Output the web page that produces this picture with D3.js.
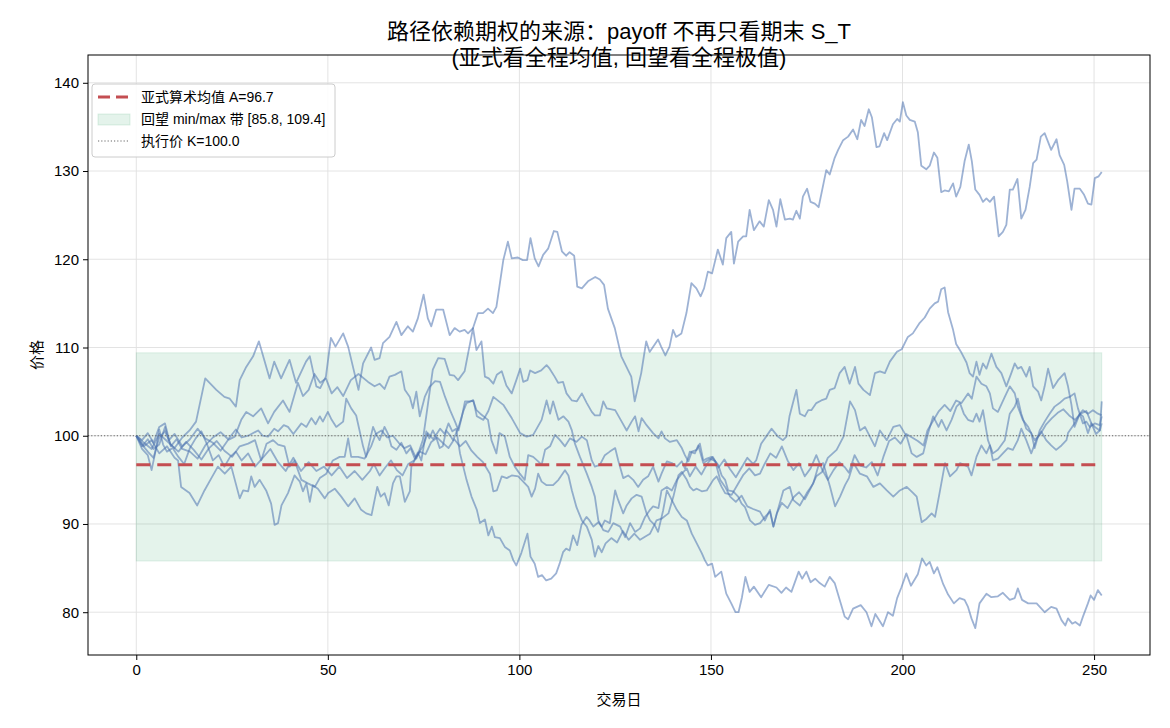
<!DOCTYPE html>
<html lang="zh">
<head>
<meta charset="UTF-8">
<title>路径依赖期权的来源</title>
<script src="https://cdnjs.cloudflare.com/ajax/libs/d3/7.8.5/d3.min.js"></script>
<style>
  body { margin: 0; background: #fff; }
  text { font-family: "Liberation Sans", Arial, "Noto Sans CJK SC", sans-serif; fill: #000; }
  .grid line { stroke: #e0e0e0; stroke-width: 0.9; }
</style>
</head>
<body>
<div id="chart"></div>
<script>
// ---- data: [trading day, price] ----
const pathA = [[0,100],[2,99.2],[4,98.5],[6,100.2],[8,99.4],[10,98.6],[12,99.8],[13.9,100.6],[15.6,101.6],[18,106.5],[20.9,105.2],[23,104.4],[24.4,104.2],[26,103.3],[27,106.3],[28.7,107.8],[30.5,109],[32,110.7],[34.8,106.5],[36,108.4],[37.8,106.5],[40,108.6],[41.7,106],[44.3,108.4],[45.3,109],[47,105.6],[48,105.4],[49.5,106.7],[50.8,111.1],[52,110.1],[54,111.6],[55.3,110.1],[58,105.2],[59.2,108.2],[61.3,110],[62.2,108.6],[63.5,108.8],[64.4,110.5],[66.1,111.2],[67.9,112.9],[69.2,111.4],[70.9,112.4],[72.2,111.8],[73.5,113.3],[75,116],[76.1,113.3],[77,112.4],[78.3,114.3],[80.1,114.3],[81.8,111.4],[83.1,112.2],[84.4,111.8],[85.7,112],[86.6,111.6],[87.9,112.2],[89.2,113.9],[90.5,113.9],[91.8,114.4],[93.1,113.9],[94,114.6],[95.8,119.9],[97,122],[98,120.1],[99.6,120.2],[100.9,119.9],[102,119.9],[102.9,122.4],[104,120.1],[105,119.2],[106.2,120.5],[107.5,121.2],[109,123.2],[109.9,123.1],[111.1,120.9],[112.2,120.4],[113.1,120.8],[114.3,120.4],[115.1,116.9],[116.3,116.7],[117.9,117.5],[119.8,118],[121,117.7],[122.1,117.1],[123.1,114.4],[124.9,112.2],[126.6,109],[128.3,107.5],[129.2,106.7],[130.1,103.9],[131.8,107.1],[133.1,110.7],[134,109.5],[136.2,110.9],[137,110.1],[138.1,109.1],[139.2,110.1],[140.1,112],[140.9,111.2],[142.3,111.6],[143.6,113.9],[144.9,117.3],[146.2,116.7],[147.3,115.8],[148.2,116.7],[149.2,118.6],[150.3,118.4],[151.8,121.1],[153.1,119.4],[154,122.4],[155.3,123.1],[156,119.5],[157.1,122],[158.4,122.6],[159.2,122.6],[160.1,125.6],[161.2,123.3],[162.7,124.3],[163.8,123.7],[165.1,126.7],[166.2,125.6],[167.1,123.7],[168.1,126.8],[169.3,124.5],[170.6,124.6],[171.4,124.5],[172.3,125.5],[173.2,124.6],[174,127.1],[175.1,128],[176,126.5],[177.1,126.3],[178.1,125.9],[180.1,130.1],[181,129.6],[182.3,131.5],[183.2,132.4],[184.5,133.5],[185.8,133.9],[187.1,134.7],[188.2,133.6],[189.2,135.8],[190.1,135.1],[191.2,137],[192,136.1],[193.2,132.7],[194,132.8],[195.2,134.3],[196,133.5],[197.5,135.3],[198.6,135.9],[199.3,135.6],[200.1,137.8],[201,136.3],[201.9,135.8],[203.2,135.6],[204,134.4],[204.9,130.6],[206.2,130.2],[207.1,130.6],[208.2,132.1],[209.1,131.5],[210.1,127.6],[211,127.8],[212.1,127.7],[213.2,128.6],[214,127.1],[215.1,128.2],[216.2,131.1],[217.3,133],[218.1,131.1],[219,127.9],[220.1,127.3],[221,126.5],[221.9,126.9],[222.8,126.5],[223.9,127.1],[225.1,122.6],[226.2,123.1],[227.1,123.9],[228,127.9],[228.8,127.9],[230,129.1],[231,124.6],[232.1,125.6],[233.2,128.2],[234.1,130.9],[235,131.3],[236.1,133.9],[237.1,134.3],[238.8,132.4],[240.2,133.6],[241,131.8],[242.2,130.7],[243,128.8],[244.1,125.6],[244.9,128],[246.3,128],[247.4,127.3],[248.4,126.3],[249.3,126.2],[250.2,129.2],[251.2,129.4],[252,129.9]];

const pathB = [[0,100],[2,98.8],[4,99.5],[6,98],[8,98.8],[10,97.5],[10.9,97.2],[11.7,94.2],[13.9,93.5],[15.9,92.1],[17.8,93.8],[19.6,95.2],[21.3,96.5],[23.1,95.7],[24.8,96.5],[27,92.9],[27.9,93.8],[29.2,93.7],[30,95.4],[30.9,94.2],[32.2,95],[33.9,93.8],[35.2,92.3],[36.1,89.9],[37,90.1],[37.9,92.1],[39.6,93.5],[41.3,95.5],[42.7,94.8],[43.5,93.7],[44.4,94.6],[45.3,92.5],[46.1,94.4],[47.4,94],[49.2,92.9],[50.1,93.5],[51.8,94],[53.5,93.1],[55.3,92],[57,92.9],[58.7,91.6],[60,91.2],[61.4,91],[62.9,94.2],[63.8,93.1],[64.8,93.5],[65.9,92.1],[67,94.6],[67.9,95.4],[68.8,95.4],[70.1,92.5],[71.4,93.7],[71.8,96.5],[73.1,97.6],[74.8,98.8],[76.1,100.3],[77.5,99.6],[79.3,100.8],[80.5,100.2],[81.5,101.4],[82.5,100.5],[83.5,100.8],[84.5,98],[86.2,95],[87.5,93.1],[88.9,91.6],[89.7,90.1],[91,90.5],[91.9,88.7],[92.8,89.7],[93.6,88.5],[94.9,88.4],[96.2,87.4],[97.5,87],[98.4,85.9],[99.2,85.3],[100.5,86.7],[102.1,88.9],[102.9,86.3],[104,85.5],[104.9,84],[105.9,84.2],[107,83.6],[108.3,83.8],[109.6,84.4],[110.5,85.5],[111.4,86.8],[112.2,87.2],[113.1,87],[114,88.7],[115.1,87.6],[116.2,89.9],[117.5,90.8],[118.3,90.4],[119.3,89.7],[120.6,90.2],[121.5,89.7],[122.3,90.4],[123.6,90.1],[125,93.8],[125.8,92.7],[127.1,91.2],[128,92.1],[129.3,92.9],[130.6,93.3],[131.9,93.1],[133.2,91.2],[134.1,90.4],[135.3,89.9],[136.2,89.1],[137.5,91.5],[138.5,93.8],[139.8,92.7],[141.1,91.6],[142.4,90.8],[143.7,90.4],[145,88.9],[146.3,87.8],[147.6,86.7],[148.4,85.9],[149.2,85.3],[150.3,85.5],[151.1,84],[152.7,84.6],[154,82.1],[155.3,81],[156.4,80],[157.2,80],[158.1,81.7],[159,84],[160.1,82.3],[161.2,82.9],[163.1,81.7],[165.1,83.1],[167.1,82.8],[168.4,82.2],[169.6,82.8],[171,82.3],[172.9,84.6],[173.8,83.8],[174.9,84.6],[176,83.4],[177.2,83.8],[178.4,83.3],[179.7,82.9],[181,84],[182.3,83.3],[183.6,81.4],[184.9,79.5],[185.8,79.2],[187.1,80.4],[189.1,80.8],[190.6,80],[191.9,78.4],[192.9,79.8],[194.9,78.4],[196.2,80],[197.5,79.6],[198.6,81.6],[199.7,82.8],[201,84.4],[202.2,83],[204,84.3],[205.1,86.1],[206.2,85.3],[207.1,85.7],[208.2,84.4],[209.1,85.1],[210.6,83.2],[211.9,82],[213.4,81],[214.9,81.6],[216.2,81.4],[217.1,80.6],[218,79.3],[219,78.2],[220.1,81],[221.9,82.1],[223.2,81.7],[224.9,81.8],[226.2,82.2],[228,81.4],[229.3,81.6],[230.1,82.7],[231.2,81.4],[232.8,81],[235,81],[237.1,80],[238.8,80.6],[240.2,80.4],[241.5,79.1],[242.5,78.5],[243.2,79.3],[244.3,78.7],[245.1,78.9],[246.3,78.5],[247.1,79.5],[248.4,81],[249.1,81.9],[250,81.4],[251,82.5],[252,81.9]];

const pathC = [[0,100],[1.5,98.8],[3,99.6],[4.5,98.5],[6,99],[7.5,101],[8.5,99.5],[10,100.2],[12,98.8],[14,99.6],[16,100.8],[18,99.7],[20,99.2],[22,98.3],[23.9,99.5],[25.7,99.9],[27.4,101.8],[28.7,102.7],[30.5,102.2],[32.6,103.1],[34.4,101.4],[36,102.7],[38.3,104],[40,102.7],[42.2,106],[43.5,104.5],[45,105.2],[46.5,107],[48,106],[49.5,106.5],[51,104.8],[52.5,105.5],[54,104.5],[56,106.3],[58,107],[60.5,106.1],[62.2,105.6],[63.5,105.9],[64.8,105.3],[66.1,106.7],[67.5,106.9],[69.2,107.3],[70.1,105.2],[71.4,104.4],[72.2,103.1],[73.1,105],[74,102.2],[75.3,104.4],[76.5,105.5],[78,106.2],[79.3,106.1],[80.6,104.4],[81.9,102.9],[83.2,101.6],[84.1,100.6],[84.9,102],[85.8,103.9],[87.1,103.9],[88,104],[88.9,102.2],[90.6,101.8],[91.9,102.8],[93.2,104.4],[95.8,103.5],[98,102],[100.2,100.3],[101.9,99.9],[103.6,100.1],[105.8,101.8],[107.1,104],[108,102.5],[108.8,103.9],[110.2,101.8],[111.5,102.2],[112.8,101.6],[113.7,100.6],[114.5,99.1],[115.8,97.6],[117.6,95.7],[118.9,94.2],[119.7,93.1],[120.6,90.4],[121.9,89.3],[123.2,89.1],[124.5,90.1],[126.3,89.7],[127.6,88.5],[128.9,90.1],[130.2,89.1],[131.5,89.5],[132.8,90.8],[134.1,91.6],[134.9,92],[136.3,91.8],[137.1,93.8],[138.5,94.2],[139.8,93.8],[141.1,95],[142.4,95.7],[143.7,96.3],[144.5,95.4],[146,96.5],[147.5,95.6],[149,96.8],[150.5,97.6],[152,96.4],[153.5,97.3],[155,96.2],[156.5,95.3],[158,96.4],[159.5,97.5],[161,96.8],[161.8,97.2],[163.1,99.1],[164.4,99.9],[165.8,100.8],[167.5,99.9],[168.8,99.5],[169.7,99.9],[170.5,102.2],[171.4,103.7],[172.3,105.2],[173.2,102.5],[174.5,102.2],[175.4,102.9],[176.2,102.9],[177.5,103.7],[178.8,104],[180.1,104.2],[181,105.2],[182.3,105.4],[183.6,107.1],[184.9,107.8],[186.2,105.9],[187.6,107.8],[188.5,105.9],[189.8,105.2],[191.5,104.6],[192.8,107.1],[194.1,107.3],[195.4,107.1],[196.7,108.4],[198.5,109.5],[199.8,109.8],[201.4,111.2],[202.7,111.6],[204.5,112.8],[205.8,113.4],[207.1,114.4],[208.4,115],[209.3,115.2],[210.1,116.6],[211,116.8],[211.9,114],[213.2,112],[214,110.4],[215.4,109.4],[216.7,108.3],[217.5,107.1],[218.4,106.7],[219.3,108.4],[220.1,106.9],[221,108.2],[221.9,107.6],[223.2,109.3],[224.5,107.8],[225.8,107.1],[227.1,105.6],[228.4,107.1],[229.3,108.2],[230.1,107.6],[231,107.8],[232.3,106.7],[233.2,107.8],[234.1,105.6],[235.4,105],[236.2,104],[237.1,105.6],[238,107.6],[239.3,105.4],[240.6,106.3],[242.3,107.1],[243.2,105.6],[244.1,103.5],[244.9,101],[246.3,102.5],[247.1,102.2],[248.4,100.3],[249.3,101.4],[250.2,101],[251.5,100.6],[252,101.4]];

const pathD = [[0,100],[1.5,99.5],[3,100.3],[4.5,99.2],[6,101],[7.5,101.4],[9,98.8],[10.5,99.6],[12,98.5],[14,98.2],[16,97.4],[18,98.9],[20,99.8],[22,100.4],[24,99.6],[26,100.7],[27.5,99.8],[29.2,100],[31.8,100.6],[33,100],[34.4,99.9],[36,100.8],[37,100.5],[38.5,101.2],[39.6,101],[41,100.2],[43.1,101.4],[44.4,101],[45.7,102],[46.8,101.3],[47.9,102.2],[48.7,101.6],[50,102.7],[51,101.8],[52.2,101],[54,101.6],[54.8,104.2],[56.1,103.1],[57.4,102.3],[59.2,98.8],[60,97.6],[61.8,101],[62.5,100.3],[63.5,99.5],[64.8,101],[65.7,100.2],[66.6,98.8],[67.9,98.4],[69.2,99.2],[70.5,98],[71.6,98.6],[72.7,97.4],[73.5,98.1],[74.4,97.2],[75.7,100.5],[76.5,99.7],[77.4,100.6],[78.3,99.8],[79.2,98.6],[80,98.8],[80.9,100.6],[81.8,100.1],[82.7,99.5],[84,100.8],[85.3,102.7],[86.2,103.7],[87.9,104],[88.8,102.9],[89.8,102.5],[91.8,101.8],[92.7,99.5],[94,98],[94.8,100.3],[96.2,99.9],[97.5,97.6],[98.8,96.5],[100.1,95.7],[101.4,95],[102.3,97.8],[103.6,97.6],[104.9,97.1],[105.8,96.7],[106.7,98.4],[108,98.8],[109.3,100.1],[110.6,99.5],[111.9,98.8],[113.2,99.7],[114.1,99.5],[114.9,99.3],[116.3,99.9],[117.6,99.5],[118.9,97.2],[119.7,96.5],[121,96.7],[122.3,97.8],[123.6,98.2],[125,98.6],[125.8,97.2],[127.1,95.2],[128.4,95.5],[129.7,95],[131,94.2],[132.3,95],[133.6,95.4],[134.9,96.5],[136.3,94.8],[137.1,95.7],[138.5,97.1],[139.8,96.9],[141.1,96.5],[142.4,97.1],[143.2,96.3],[144.5,98.2],[145.8,98],[146.7,98.9],[148,96.9],[149.8,97.4],[151.1,97.1],[152.4,95],[153.7,94.2],[155,93.1],[156.5,92.5],[158,93.2],[159.5,92],[161,91.7],[162.8,91.4],[164.1,90.4],[165.4,91.6],[166.3,89.7],[167.2,91.2],[168.5,92.4],[170,91.8],[171.5,93],[173,93.6],[174.5,92.8],[176,94],[177.5,95.4],[179,95.9],[180.5,97.5],[182.8,98.4],[184.6,99.9],[186.3,103.9],[187.6,102.9],[188.9,100.6],[190.2,101],[191.5,99.9],[192.8,98.8],[194.1,100.6],[195.9,99.5],[197.6,101],[199.3,101.2],[201.1,99.9],[202.4,98],[203.7,97.6],[205.4,98],[206.7,100.3],[208,102.2],[209.4,101],[210.2,101.8],[211.5,100.6],[212.8,101.8],[214.1,103.3],[215,103.7],[216,102.5],[217.1,101.8],[218.4,101.6],[219.3,102.5],[220.1,101.6],[221,102.9],[222.3,99.5],[223.6,98],[224.9,98.4],[226.7,99.5],[228,102.5],[229.3,103.3],[230.1,104.2],[231,102.5],[232.3,100.8],[233.6,100.3],[234.5,98.6],[235.8,100.6],[237.1,101.6],[238.4,102.5],[239.7,103.3],[241,103.7],[242.3,104.2],[243.6,104.4],[244.9,104.8],[245.8,103.1],[247.1,101.4],[248,101.6],[248.9,101],[250.2,101.4],[251.5,101.2],[252,102.2]];

const pathE = [[0,100],[1.5,99],[3,98.2],[4.5,97.5],[6,99.8],[7.5,100.5],[9,99],[11,98.2],[13,99.3],[15,98.4],[17,97.3],[19,98.6],[21,99.4],[23,98.3],[25,97.6],[27,98.8],[29.2,99.1],[31,99.5],[32.6,97.2],[34,99.1],[35.7,99.5],[37,99],[38.7,98.8],[40,96.5],[41.3,97.2],[43.1,95],[44.8,94.6],[46.6,94.2],[47.9,95.2],[49.6,95.7],[51.3,97.2],[53.1,97.6],[54.4,97.6],[55.3,99.7],[56.1,97.6],[57.9,97.6],[59.6,97.4],[61.3,98.8],[62.5,100.2],[64,100.6],[65.5,99.8],[67,100],[68.5,99.2],[70,98.6],[71.5,98.9],[73.1,97.4],[74.8,99.5],[76.1,103.5],[77.4,107.5],[78.8,108.8],[80.5,108.7],[81.8,106.9],[83,106.8],[84,106.3],[85.7,107.3],[86.6,109.3],[87.9,112.2],[88.8,109.7],[90.1,110.7],[91,106.7],[92,106.5],[93.2,105.9],[94.1,106.9],[95.4,107.3],[96.6,105.7],[98,104.8],[99.2,106.3],[100.2,107.6],[101,106.1],[102.1,106.3],[102.8,107.4],[104.1,107.1],[105.7,107.4],[107.1,108],[107.9,107.6],[109.2,106.7],[110.1,106],[111.4,106.1],[112.3,104.8],[113.7,104],[115,103.9],[116.3,104.8],[117.6,103.7],[118.9,102.7],[119.7,102.3],[121,102.3],[121.9,103.9],[122.8,103.1],[125,102.9],[126.7,101.6],[128,100.6],[129.3,101.6],[130.2,102.2],[131.1,100.5],[131.9,102],[133.2,101.2],[134.9,100.3],[136.3,99.7],[137.1,100.5],[138,99.7],[139.3,99.3],[141.1,99.5],[142.4,98.6],[143.2,97.8],[144.1,97.1],[145,98.2],[146.3,98.4],[147.1,99.1],[148,97.2],[148.9,97.4],[150.2,97.6],[151.9,96.7],[152.8,95.5],[153.7,95],[154.5,93.8],[155.8,93.7],[157.1,93.1],[158,92.3],[158.9,91.9],[160.2,90.4],[161.5,89.9],[162.8,90.1],[164.1,90.8],[165.4,91.4],[166.3,89.7],[167.2,91.2],[168.9,93.8],[170.6,94.2],[171.5,92.7],[173.2,92.1],[175,93.5],[176.7,94.6],[178,96.5],[179.3,96.9],[181.1,94.2],[182.4,92],[183.7,93.1],[185,94.4],[186,95.2],[187.2,96.9],[188.9,95.7],[190.7,95.4],[192.4,94.2],[194.1,94.6],[195.9,93.8],[197.6,93.1],[199.3,93.8],[201.1,94.2],[202.8,93.5],[203.7,93.1],[205,90.2],[206.3,90.6],[207.6,91.2],[208.5,90.8],[209.8,93.8],[211.1,96.9],[212.4,95.4],[214.1,96.1],[215,96.9],[217.1,96.5],[218,95.5],[219.3,97.6],[220.6,98.9],[221.9,98],[222.8,98.9],[223.6,97.2],[224.9,97.4],[226.2,98],[227.5,98.6],[228.8,98.4],[230.1,99.5],[231,100.8],[232.3,99.5],[233.6,98],[234.9,99.5],[236.2,100.5],[237.5,99.5],[238.8,98.9],[240.1,98.4],[241.5,98.9],[242.8,99.5],[243.2,100.3],[244.9,101.4],[246.3,102.5],[247.1,102.9],[248.4,102.5],[249.7,102.9],[251,102.5],[252,102.3]];

const pathF = [[0,100],[1.5,98.5],[3,97.8],[4,96.1],[5,98.2],[6,100.7],[7,99],[8,98.2],[9.5,98.6],[11,97.6],[12.5,96.8],[14,98.6],[15.5,99.7],[17,100.5],[18.5,99],[20,97.2],[21.5,97.8],[23,96.5],[24.5,97.6],[26,98.2],[27.5,97.2],[29.2,98],[31,96.5],[33,97.5],[35,98.5],[37,97],[39,96],[41,97.5],[43,96],[45,97],[47,96],[49,96.5],[51,95.5],[53,96.5],[55,95.2],[57,96],[59,95],[61,96],[62,96.8],[63.5,95.5],[65,96.4],[66.5,97.2],[68,96.1],[69.5,95.5],[71,96.8],[72.5,97.2],[74,98.2],[75.5,97.9],[77,99.3],[78.5,99.8],[80,99.2],[81.5,98.6],[83,99.6],[84.5,98.8],[86,99.4],[87.5,98.3],[89,97.6],[90.5,97],[92.3,95.7],[93.2,93.7],[94.1,93.8],[95.4,95.4],[96.7,95.2],[98,95.5],[99.7,95.4],[101,94.8],[102.3,94.2],[103.2,93.1],[104.1,94],[104.9,95.7],[105.8,94.8],[107.1,94.4],[108.8,94.4],[110.2,95],[111.9,96.1],[112.8,95.5],[113.7,93.8],[114.9,91.9],[116.3,90.4],[117.6,89.7],[118.9,88.2],[119.7,86.3],[120.6,87.5],[121.5,86.8],[122.5,87.8],[124,88.4],[125.5,87.9],[127,89.2],[128.5,88.2],[130,88.9],[131.5,88.2],[133,88.6],[134.1,88.9],[135.8,90.4],[137.1,90.6],[138.9,91.2],[140.2,93.1],[141.5,95.5],[142.4,95.9],[143.7,95],[144.5,94.2],[145.4,93.8],[146.3,94],[147.6,93.7],[148.9,93.8],[150.6,95],[151.5,95.4],[152.8,94.2],[153.7,93.5],[155.4,93.3],[157,94.5],[158.5,95.6],[160,96.3],[161.5,95.5],[162.8,95.7],[164,96.8],[165.5,98],[167,97.5],[168.5,98.8],[170,97.2],[171.5,96.1],[173,96.9],[174.5,95.4],[176,96.3],[177.5,97.8],[179,96.2],[180.5,95],[182,96.1],[183.5,97],[185,96.4],[186,95.8],[187.5,97.8],[189,96.6],[190.5,96.4],[192,97],[193.5,95.5],[195,97.6],[196.5,99.4],[198,99.8],[199.5,99.1],[201,100.2],[202.5,99.8],[204,99.4],[205.5,98.9],[206.5,100.6],[208,101.7],[209.5,102.8],[211,103.5],[212.5,102.8],[214,104],[215.4,103.7],[217.1,104.8],[218.1,104.2],[219.3,106.7],[220.6,105.9],[221.9,105.6],[222.8,104.8],[223.6,103.1],[224.9,102.7],[226.7,104.4],[228,105.6],[229.3,104.8],[230.1,103.3],[231.4,101.8],[232.8,101],[234.5,99.5],[236,100.2],[237.5,101.3],[239,102],[240.5,102.6],[242,103],[243.5,102.3],[245,101.8],[246.5,102.5],[248,102.8],[249.3,101.4],[250.5,100.2],[251.5,100.6],[252,103.9]];

const paths = [pathA, pathB, pathC, pathD, pathE, pathF];

const nDays = 252;
const asianAvg = 96.7;
const lookMin = 85.8;
const lookMax = 109.4;
const strike = 100.0;
const xTicks = [0, 50, 100, 150, 200, 250];
const yTicks = [80, 90, 100, 110, 120, 130, 140];

// ---- layout ----
const W = 1170, H = 728;
const margin = {top: 55, right: 20, bottom: 73, left: 88};
const width = W - margin.left - margin.right;
const height = H - margin.top - margin.bottom;

const svg = d3.select("#chart").append("svg")
    .attr("width", W)
    .attr("height", H);

const g = svg.append("g").attr("transform", `translate(${margin.left},${margin.top})`);

const x = d3.scaleLinear().domain([-nDays * 0.05, nDays * 1.05]).range([0, width]);
const y = d3.scaleLinear().domain([75.15, 143.15]).range([height, 0]);

// grid
g.append("g").attr("class", "grid")
    .selectAll("line").data(xTicks).join("line")
    .attr("x1", d => x(d)).attr("x2", d => x(d))
    .attr("y1", 0).attr("y2", height);
g.append("g").attr("class", "grid")
    .selectAll("line").data(yTicks).join("line")
    .attr("x1", 0).attr("x2", width)
    .attr("y1", d => y(d)).attr("y2", d => y(d));

// lookback min/max band
g.append("rect")
    .attr("x", x(0)).attr("width", x(nDays) - x(0))
    .attr("y", y(lookMax)).attr("height", y(lookMin) - y(lookMax))
    .attr("fill", "rgb(44,160,100)").attr("fill-opacity", 0.13)
    .attr("stroke", "rgb(44,160,100)").attr("stroke-opacity", 0.12);

// price paths
const line = d3.line().x(d => x(d[0])).y(d => y(d[1]));
g.selectAll(".path").data(paths).join("path")
    .attr("class", "path")
    .attr("d", line)
    .attr("fill", "none")
    .attr("stroke", "#4c72b0")
    .attr("stroke-opacity", 0.55)
    .attr("stroke-width", 1.8)
    .attr("stroke-linejoin", "round");

// asian average
g.append("line")
    .attr("x1", x(0)).attr("x2", x(nDays))
    .attr("y1", y(asianAvg)).attr("y2", y(asianAvg))
    .attr("stroke", "#c44e52").attr("stroke-width", 3)
    .attr("stroke-dasharray", "14 7");

// strike
g.append("line")
    .attr("x1", 0).attr("x2", width)
    .attr("y1", y(strike)).attr("y2", y(strike))
    .attr("stroke", "#666").attr("stroke-width", 1.1)
    .attr("stroke-dasharray", "1.2 2");

// axes
const xAxis = g.append("g").attr("transform", `translate(0,${height})`)
    .call(d3.axisBottom(x).tickValues(xTicks).tickSize(5).tickPadding(4));
const yAxis = g.append("g")
    .call(d3.axisLeft(y).tickValues(yTicks).tickSize(5).tickPadding(4));
[xAxis, yAxis].forEach(a => {
    a.select(".domain").remove();
    a.selectAll("line").attr("stroke", "#000").attr("stroke-width", 1);
    a.selectAll("text").attr("font-size", "15px")
        .attr("font-family", "'Liberation Sans', Arial, sans-serif").attr("fill", "#000");
});

// frame
g.append("rect").attr("width", width).attr("height", height)
    .attr("fill", "none").attr("stroke", "#000").attr("stroke-width", 1);

// axis labels
g.append("text")
    .attr("x", width / 2).attr("y", height + 50)
    .attr("text-anchor", "middle").attr("font-size", "15px")
    .text("交易日");
g.append("text")
    .attr("transform", "rotate(-90)")
    .attr("x", -height / 2).attr("y", -46)
    .attr("text-anchor", "middle").attr("font-size", "15px")
    .text("价格");

// title
svg.append("text")
    .attr("x", margin.left + width / 2).attr("y", 39)
    .attr("text-anchor", "middle").attr("font-size", "22px")
    .text("路径依赖期权的来源：payoff 不再只看期末 S_T");
svg.append("text")
    .attr("x", margin.left + width / 2).attr("y", 65)
    .attr("text-anchor", "middle").attr("font-size", "22px")
    .text("(亚式看全程均值, 回望看全程极值)");

// legend
const legend = g.append("g").attr("transform", "translate(4,29)");
legend.append("rect")
    .attr("width", 243).attr("height", 73).attr("rx", 3)
    .attr("fill", "#fff").attr("fill-opacity", 0.85)
    .attr("stroke", "#cccccc").attr("stroke-width", 1);
const legendItems = [
    {label: `亚式算术均值 A=${asianAvg.toFixed(1)}`, kind: "dash"},
    {label: `回望 min/max 带 [${lookMin.toFixed(1)}, ${lookMax.toFixed(1)}]`, kind: "band"},
    {label: `执行价 K=${strike.toFixed(1)}`, kind: "dot"}
];
legendItems.forEach((item, i) => {
    const row = legend.append("g").attr("transform", `translate(0,${13 + i * 22})`);
    if (item.kind === "dash") {
        row.append("line").attr("x1", 6).attr("x2", 38).attr("y1", 0).attr("y2", 0)
            .attr("stroke", "#c44e52").attr("stroke-width", 3).attr("stroke-dasharray", "12 6");
    } else if (item.kind === "band") {
        row.append("rect").attr("x", 6).attr("y", -5).attr("width", 32).attr("height", 11)
            .attr("fill", "rgb(44,160,100)").attr("fill-opacity", 0.13)
            .attr("stroke", "rgb(44,160,100)").attr("stroke-opacity", 0.15);
    } else {
        row.append("line").attr("x1", 6).attr("x2", 38).attr("y1", 0).attr("y2", 0)
            .attr("stroke", "#666").attr("stroke-width", 1.1).attr("stroke-dasharray", "1.2 2");
    }
    row.append("text").attr("x", 49).attr("y", 5)
        .attr("font-size", "14px").text(item.label);
});
</script>
</body>
</html>
